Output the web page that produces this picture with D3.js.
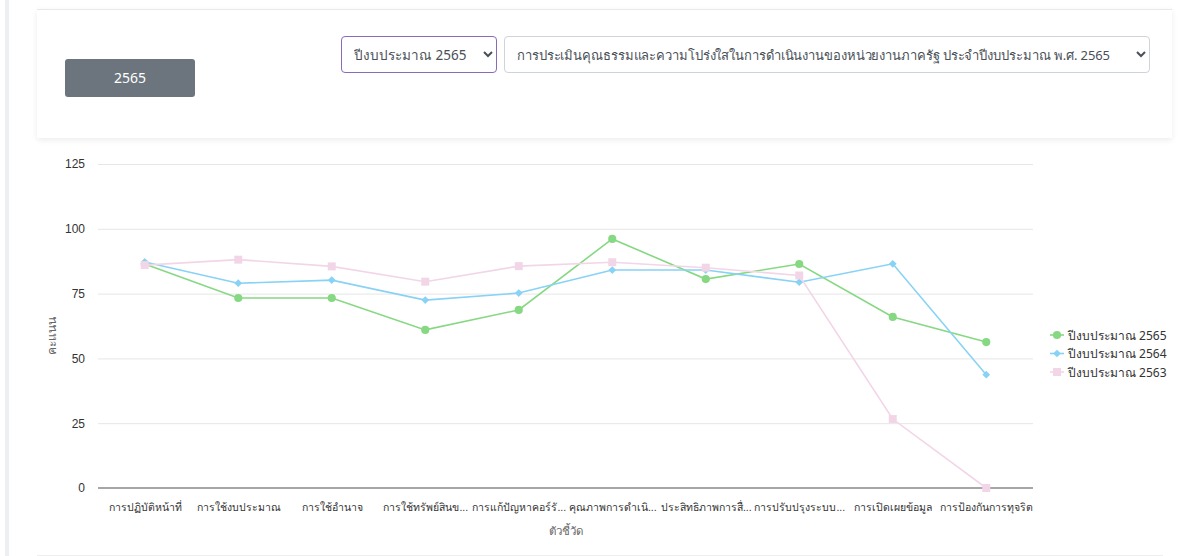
<!DOCTYPE html>
<html>
<head>
<meta charset="utf-8">
<script src="https://cdn.jsdelivr.net/npm/d3@7"></script>
<style>
  html, body { margin: 0; padding: 0; background: #fff; }
  body { width: 1198px; height: 556px; position: relative; overflow: hidden;
         font-family: "Noto Sans", "DejaVu Sans", sans-serif; }
  .stripe { position: absolute; left: 5px; top: 0; width: 4px; height: 556px; background: #eceff3; }
  .card { position: absolute; left: 37px; top: 9px; width: 1135px; height: 128px; background: #fff;
          border-top: 1px solid #e8e8e8; box-shadow: 0 2px 6px rgba(0,0,0,0.08); }
  .btn { position: absolute; left: 65px; top: 59px; width: 130px; height: 38px; background: #6c757d;
         color: #fff; border-radius: 3px; font-size: 14px; line-height: 38px; text-align: center; }
  select { position: absolute; top: 36px; height: 37px; font-size: 13.5px; color: #495057;
           background: #fff; border: 1px solid #ced4da; border-radius: 4px; padding: 0 4px 0 8px;
           font-family: inherit; }
  #sel1 { left: 341px; width: 156px; border-color: #8a6bb8; }
  #sel2 { left: 504px; width: 646px; font-size: 13px; letter-spacing: -0.1px; }
  svg { position: absolute; left: 0; top: 0; }
  .grid line { stroke: #e6e6e6; }
  .grid path { display: none; }
  .tick text { fill: #333; font-size: 12px; }
</style>
</head>
<body>
<div class="stripe"></div>
<div class="card"></div>
<div class="btn">2565</div>
<select id="sel1"><option>ปีงบประมาณ 2565</option></select>
<select id="sel2"><option>การประเมินคุณธรรมและความโปร่งใสในการดำเนินงานของหน่วยงานภาครัฐ ประจำปีงบประมาณ พ.ศ. 2565</option></select>
<svg id="chart" width="1198" height="556"></svg>
<script>
// categories (x axis labels, already truncated as shown)
var categories = [
  "การปฏิบัติหน้าที่", "การใช้งบประมาณ", "การใช้อำนาจ", "การใช้ทรัพย์สินข...",
  "การแก้ปัญหาคอร์รั...", "คุณภาพการดำเนิ...", "ประสิทธิภาพการสื่...",
  "การปรับปรุงระบบ...", "การเปิดเผยข้อมูล", "การป้องกันการทุจริต"
];

// score per year
var score2565 = [86.4, 73.3, 73.3, 61.0, 68.7, 96.1, 80.6, 86.4, 66.0, 56.3];
var score2564 = [87.2, 79.0, 80.2, 72.5, 75.2, 84.1, 84.1, 79.4, 86.5, 43.7];
var score2563 = [86.0, 88.1, 85.5, 79.6, 85.6, 87.1, 85.0, 82.0, 26.6, 0];

var yTicks = [0, 25, 50, 75, 100, 125];

var series = [
  { name: "ปีงบประมาณ 2565", values: score2565, color: "#86d883", marker: "circle" },
  { name: "ปีงบประมาณ 2564", values: score2564, color: "#88d2f6", marker: "diamond" },
  { name: "ปีงบประมาณ 2563", values: score2563, color: "#f2d6e7", marker: "square" }
];

// marker shape like highcharts: circle, square turned 45deg, square
function markerPath(kind) {
  if (kind === "circle") return d3.symbol().type(d3.symbolCircle).size(52)();
  if (kind === "diamond") return d3.symbol().type(d3.symbolSquare).size(30)();
  return d3.symbol().type(d3.symbolSquare).size(64)();
}
function markerRotate(kind) {
  return kind === "diamond" ? " rotate(45)" : "";
}

var plotLeft = 98, plotRight = 1033, plotTop = 164, plotBottom = 488;

var svg = d3.select("#chart");

// bottom border of chart card
svg.append("line")
  .attr("x1", 37).attr("x2", 1163).attr("y1", 555.5).attr("y2", 555.5)
  .attr("stroke", "#eeeeee");

var xScale = d3.scalePoint()
  .domain(categories)
  .range([plotLeft, plotRight])
  .padding(0.5);

var yScale = d3.scaleLinear()
  .domain([0, 125])
  .range([plotBottom, plotTop]);

// gridlines + y labels
svg.append("g")
  .attr("class", "grid")
  .attr("transform", "translate(" + plotLeft + ",0)")
  .call(d3.axisLeft(yScale).tickValues(yTicks).tickSize(-(plotRight - plotLeft)).tickPadding(13));

// x axis
var xAxis = svg.append("g")
  .attr("transform", "translate(0," + plotBottom + ")")
  .call(d3.axisBottom(xScale).tickSize(0).tickPadding(16));
xAxis.select(".domain").attr("stroke", "#a6a6a6").attr("stroke-width", 2)
  .attr("d", "M" + plotLeft + ",0H" + plotRight);
xAxis.selectAll(".tick text").style("font-size", "10.5px");

// axis titles
svg.append("text")
  .attr("transform", "translate(56,336) rotate(-90)")
  .attr("text-anchor", "middle")
  .attr("fill", "#666").attr("font-size", "12px")
  .text("คะแนน");

svg.append("text")
  .attr("x", 566).attr("y", 535)
  .attr("text-anchor", "middle")
  .attr("fill", "#666").attr("font-size", "11.5px")
  .text("ตัวชี้วัด");

var line = d3.line()
  .x(function(d, i) { return xScale(categories[i]); })
  .y(function(d) { return yScale(d); });

series.forEach(function(s) {
  var g = svg.append("g");
  g.append("path")
    .datum(s.values)
    .attr("fill", "none")
    .attr("stroke", s.color)
    .attr("stroke-width", 1.6)
    .attr("d", line);
  g.selectAll("path.pt")
    .data(s.values)
    .enter()
    .append("path")
    .attr("class", "pt")
    .attr("transform", function(d, i) {
      return "translate(" + xScale(categories[i]) + "," + yScale(d) + ")" + markerRotate(s.marker);
    })
    .attr("d", markerPath(s.marker))
    .attr("fill", s.color);
});

// legend
var legend = svg.append("g").attr("transform", "translate(1057,335)");
var item = legend.selectAll("g")
  .data(series)
  .enter()
  .append("g")
  .attr("transform", function(d, i) { return "translate(0," + (i * 18.5) + ")"; });
item.append("line")
  .attr("x1", -7).attr("x2", 7)
  .attr("stroke", function(d) { return d.color; })
  .attr("stroke-width", 1.6);
item.append("path")
  .attr("d", function(d) { return markerPath(d.marker); })
  .attr("transform", function(d) { return "translate(0,0)" + markerRotate(d.marker); })
  .attr("fill", function(d) { return d.color; });
item.append("text")
  .attr("x", 11).attr("y", 4.5)
  .attr("font-size", "12px").attr("fill", "#333")
  .text(function(d) { return d.name; });
</script>
</body>
</html>
